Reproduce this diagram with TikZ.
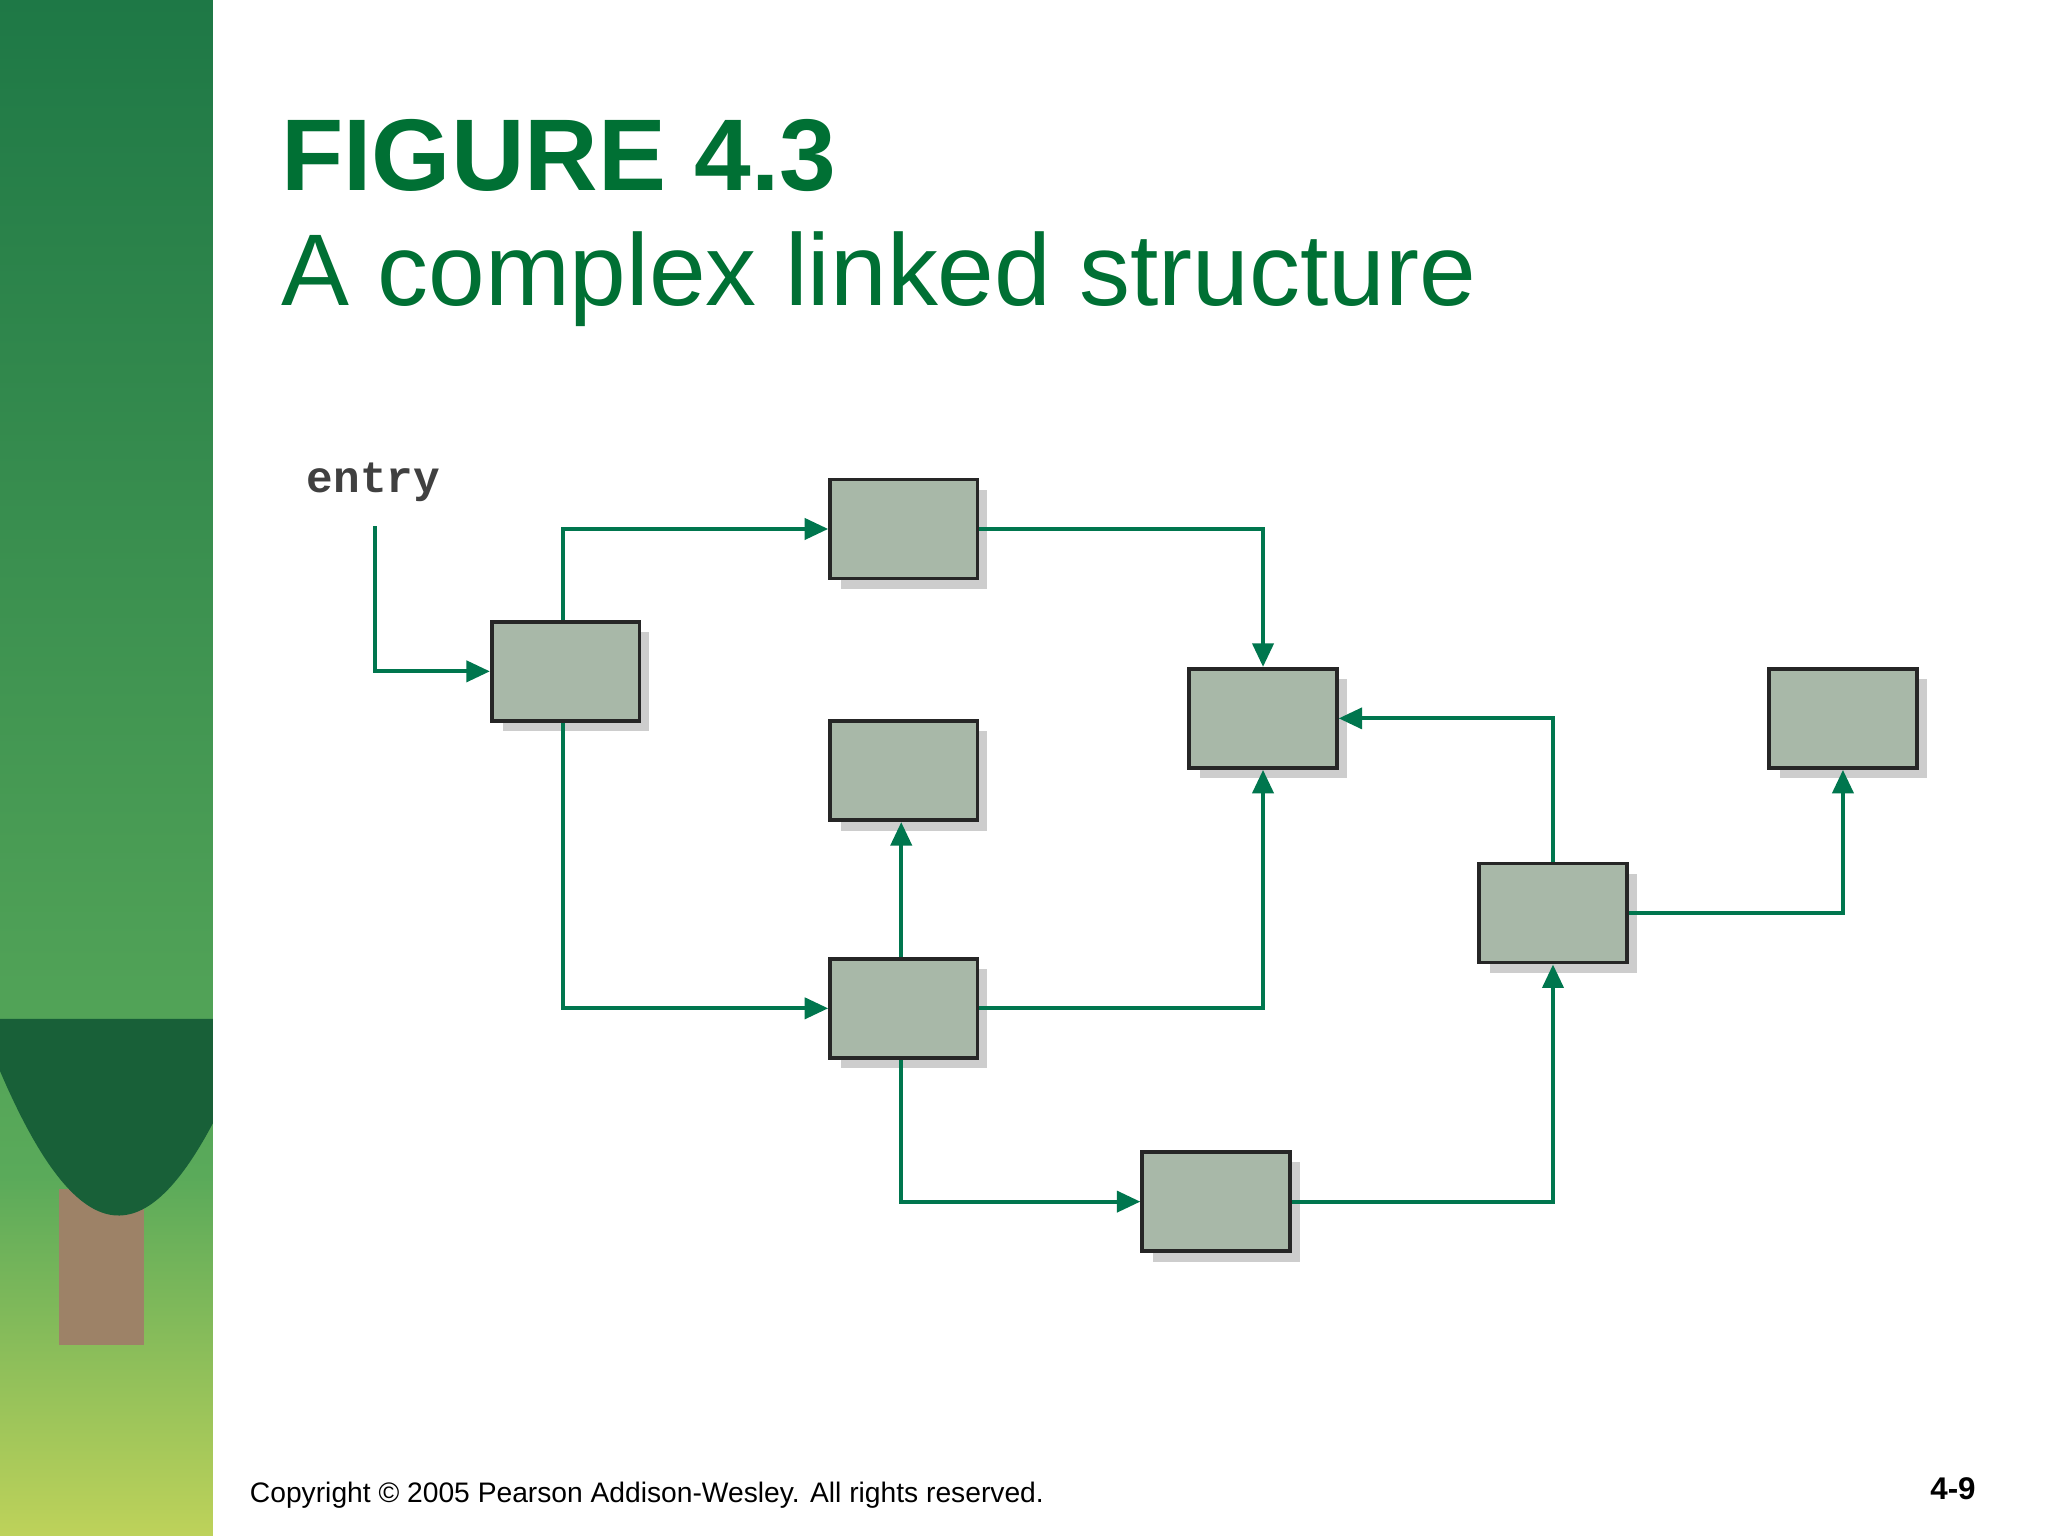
\documentclass[tikz,border=0pt]{standalone}
\usepackage{fontspec}
\setmainfont{Liberation Sans}
\newfontfamily\monof{Liberation Mono}
\usetikzlibrary{arrows.meta}
\definecolor{titg}{RGB}{0,112,52}
\definecolor{arrg}{RGB}{0,118,78}
\definecolor{boxf}{RGB}{168,184,168}
\definecolor{shad}{RGB}{205,205,205}
\definecolor{treeA}{RGB}{30,120,70}
\definecolor{treeB}{RGB}{90,170,90}
\definecolor{grass}{RGB}{190,210,90}
\begin{document}
\begin{tikzpicture}[x=0.5pt,y=-0.5pt,
  box/.style={draw=black!85,line width=1.4pt,fill=boxf,minimum width=56.5pt,minimum height=38pt,inner sep=0pt},
  lk/.style={draw=arrg,line width=1.6pt,-{Triangle[length=9pt,width=8pt]}}]
\useasboundingbox (0,0) rectangle (1568,1176);
\fill[white] (0,0) rectangle (1568,1176);
% tree panel
\shade[top color=treeA,bottom color=treeB] (0,0) rectangle (163,900);
\shade[top color=treeB,bottom color=grass] (0,900) rectangle (163,1176);
\fill[brown!60!black!70] (45,910) rectangle (110,1030);
\fill[treeA!80!black] (0,820) .. controls (60,960) and (110,960) .. (163,860) -- (163,780) -- (0,780) -- cycle;
% titles
\node[anchor=base west,font=\bfseries\fontsize{39}{45}\selectfont,text=titg,inner sep=0] at (215,146) {FIGURE 4.3};
\node[anchor=base west,font=\fontsize{39}{45}\selectfont,text=titg,inner sep=0] at (215,234) {A complex linked structure};
\node[anchor=base west,font=\fontsize{10.8}{13}\selectfont,inner sep=0] at (191,1150) {Copyright © 2005 Pearson Addison-Wesley. All rights reserved.};
\node[anchor=base east,font=\bfseries\fontsize{12}{14}\selectfont,inner sep=0] at (1513,1148) {4-9};
\node[anchor=base,font=\monof\bfseries\fontsize{17}{19}\selectfont,text=black!75,inner sep=0] (entry) at (286,377) {entry};
\coordinate (e0) at (287,403);
% boxes with shadows
\foreach \n/\x/\y in {A/433/514,B/692/405,C/967/550,D/692/590,E/692/772,F/1411/550,G/1189/699,H/931/920}{
  \fill[shad] (\x-48,\y-30) rectangle (\x+64,\y+46);
  \node[box] (\n) at (\x,\y) {};
}
\draw[lk] (e0) |- (A.west);
\draw[lk] (A.north -| 431,0) |- (B.west);
\draw[lk] (B.east) -| (C.north);
\draw[lk] (A.south -| 431,0) |- (E.west);
\draw[lk] (E.north -| 690,0) -- (D.south -| 690,0);
\draw[lk] (E.east) -| (C.south);
\draw[lk] (E.south -| 690,0) |- (H.west);
\draw[lk] (H.east) -| (G.south);
\draw[lk] (G.north) |- (C.east);
\draw[lk] (G.east) -| (F.south);
\end{tikzpicture}
\end{document}
